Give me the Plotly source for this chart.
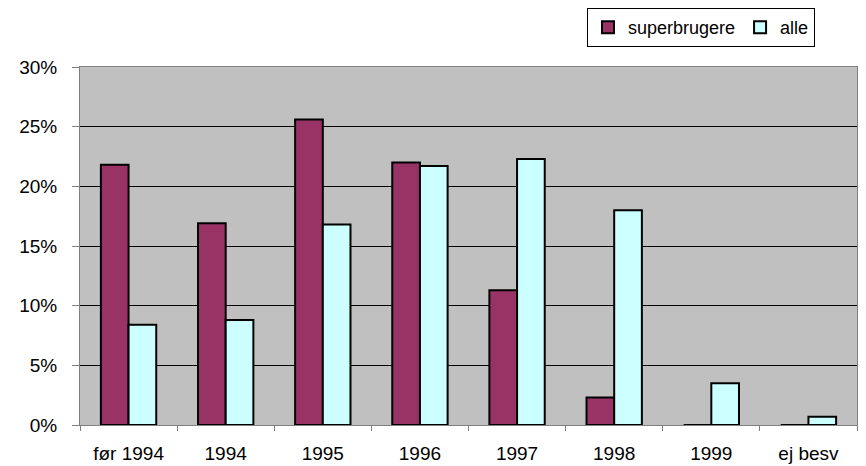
import plotly.graph_objects as go

# kategorier og andele
years = ["før 1994", "1994", "1995", "1996", "1997", "1998", "1999", "ej besv"]
superbrugere = [0.218, 0.169, 0.256, 0.220, 0.113, 0.023, 0.0, 0.0]
alle = [0.084, 0.088, 0.168, 0.217, 0.223, 0.180, 0.035, 0.007]

font = dict(family="Liberation Sans, Arial, sans-serif", size=19, color="black")
legend_font = dict(family="Liberation Sans, Arial, sans-serif", size=18, color="black")

fig = go.Figure()
fig.add_trace(go.Bar(
    x=years, y=superbrugere, name="superbrugere",
    marker=dict(color="#993366", line=dict(color="black", width=2)),
))
fig.add_trace(go.Bar(
    x=years, y=alle, name="alle",
    marker=dict(color="#CCFFFF", line=dict(color="black", width=2)),
))

# the page body has an 8px margin, so the figure is a little smaller
fig.update_layout(
    width=858, height=458,
    margin=dict(l=72, r=9, t=59, b=41),
    paper_bgcolor="white",
    plot_bgcolor="#C0C0C0",
    barmode="group",
    bargap=0.43,
    bargroupgap=0,
    font=font,
    legend=dict(
        orientation="h",
        x=0.6525, xanchor="left",
        yref="container", y=1.0, yanchor="top",
        bgcolor="white",
        bordercolor="black",
        borderwidth=1,
        font=legend_font,
        itemwidth=30,
    ),
)

fig.update_xaxes(
    showgrid=False, automargin=False,
    showline=True, linecolor="#808080", linewidth=1, mirror=True,
    ticks="outside", tickson="boundaries", ticklen=5, tickcolor="#808080",
    tickfont=font, ticklabelstandoff=11,
)
fig.update_yaxes(
    range=[0, 0.30], dtick=0.05, tickformat=".0%", automargin=False,
    showgrid=True, gridcolor="black", gridwidth=1,
    showline=True, linecolor="#808080", linewidth=1, mirror=True,
    ticks="outside", ticklen=7, tickcolor="#808080",
    tickfont=font, ticklabelstandoff=11, zeroline=False,
)

fig.write_html("out.html")
